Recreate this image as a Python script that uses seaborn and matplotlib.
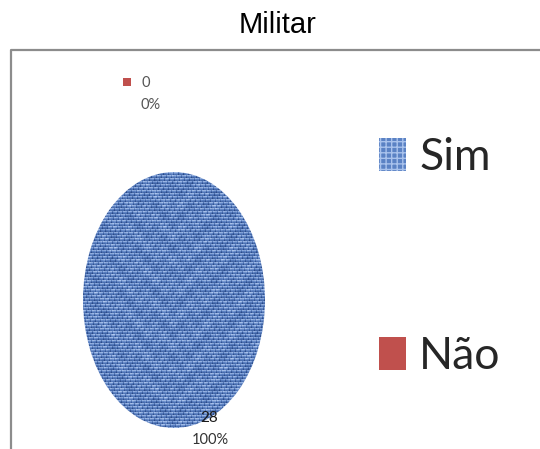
import numpy as np
import matplotlib.pyplot as plt
import matplotlib.patches as mpatches
from matplotlib.colors import LinearSegmentedColormap
import seaborn as sns

# Data
categories = ["Sim", "Não"]
counts = [28, 0]
colors = ["#4F81BD", "#C0504D"]
title = "Militar"

sns.set_theme(style="white")
plt.rcParams['font.family'] = ['Lato', 'DejaVu Sans']
palette = sns.color_palette(colors)
total = sum(counts)
pct_labels = ["{:.0f}%".format(100 * c / total) for c in counts]

fig = plt.figure(figsize=(5.4, 4.49), dpi=100)

# background axes in pixel units (frame lines, title, labels, legend)
bg = fig.add_axes([0, 0, 1, 1])
bg.set_xlim(0, 540)
bg.set_ylim(449, 0)
bg.axis('off')
bg.set_zorder(2)
bg.plot([11, 11, 540], [449, 50, 50], color='#8c8c8c', lw=1.6)
bg.text(278, 25, title, ha='center', va='center', fontsize=21,
        family='Liberation Sans', color='black')

# pie drawn in its own axes, stretched into an ellipse
pie_ax = fig.add_axes([83 / 540, (449 - 428) / 449, 182 / 540, 256 / 449])
wedges, _ = pie_ax.pie(counts, colors=palette, startangle=90,
                       counterclock=False, radius=1)
pie_ax.set_aspect('auto')
pie_ax.set_xlim(-1, 1)
pie_ax.set_ylim(-1, 1)

# woven (linen-like) texture clipped to the Sim wedge
yy, xx = np.mgrid[0:256, 0:182]
rows = np.where(yy % 3 == 0, 0.30, np.where(yy % 3 == 1, 0.05, -0.15))
cols = np.where((xx + (yy // 3) * 2) % 5 == 0, -0.30, 0.0)
ripple = 0.04 * np.sin((np.abs(xx - 91) * 0.7 + yy) * np.pi / 14)
blotch = (0.08 * np.sin(xx * 0.37) * np.cos(yy * 0.29)
          + 0.07 * np.sin(xx * 1.13 + yy * 0.71) * np.sin(yy * 0.53 - xx * 0.21))
tex = np.clip(0.47 + rows + cols + ripple + blotch, 0, 1)
cmap = LinearSegmentedColormap.from_list('weave', ['#2A4A88', '#5A80C2', '#B4CBF0'])
img = pie_ax.imshow(tex, cmap=cmap, extent=(-1, 1, -1, 1), aspect='auto',
                    interpolation='bilinear', zorder=3)
img.set_clip_path(wedges[0])

# data labels
bg.scatter([127], [82], marker='s', s=40, color=colors[1], linewidths=0)
bg.text(146, 83, str(counts[1]), ha='center', va='center', fontsize=10.5, color='#555555')
bg.text(151, 105, pct_labels[1], ha='center', va='center', fontsize=10.5, color='#555555')
bg.text(209, 418, str(counts[0]), ha='center', va='center', fontsize=11, color='#1a1a1a')
bg.text(210, 440, pct_labels[0], ha='center', va='center', fontsize=10.5, color='#333333')

# legend
handles = [mpatches.Patch(facecolor='#5B82C4', edgecolor='#A9C2EC', hatch='+++', lw=0),
           mpatches.Patch(facecolor=colors[1], lw=0)]
bg.legend(handles, categories, loc='upper left',
          bbox_to_anchor=(379 / 540, 1 - 137 / 449), frameon=False, fontsize=32,
          handlelength=0.6, handleheight=0.75, handletextpad=0.3,
          labelspacing=3.55, borderpad=0, borderaxespad=0)

fig.savefig('out.png', dpi=100)
